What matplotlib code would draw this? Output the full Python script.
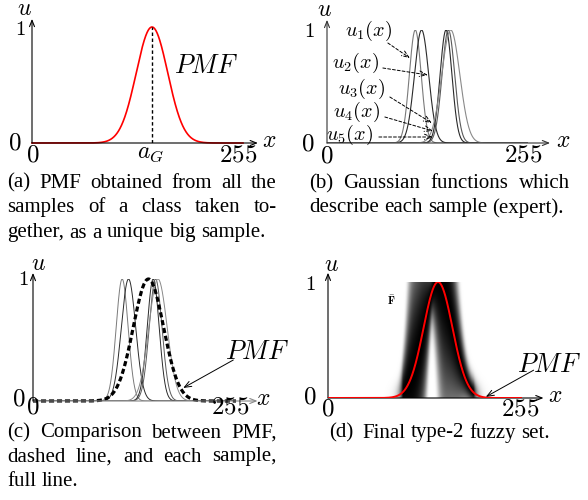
import numpy as np
import matplotlib
matplotlib.use('Agg')
import matplotlib.pyplot as plt

plt.rcParams['mathtext.fontset'] = 'cm'
plt.rcParams['font.family'] = ['Liberation Serif', 'DejaVu Serif']

# ---------------- data ----------------
pmf_mean = 145.0
pmf_sigma = 19.0
sample_means = [112, 120, 151, 154, 157]
sample_sigmas = [7.5, 9.0, 7.5, 8.0, 11.5]
sample_colors = ['#7a7a7a', '#2a2a2a', '#2a2a2a', '#5a5a5a', '#8a8a8a']
sample_labels = [r'$u_1(x)$', r'$u_2(x)$', r'$u_3(x)$', r'$u_4(x)$', r'$u_5(x)$']
x_ticks = ['0', '255']
u_ticks = ['0', '1']
captions = {
    'a': ['(a)  PMF obtained from all the', 'samples of a class taken to-', 'gether, as a unique big sample.'],
    'b': ['(b)  Gaussian functions which', 'describe each sample (expert).'],
    'c': ['(c)  Comparison between PMF,', 'dashed line, and each sample,', 'full line.'],
    'd': ['(d)  Final type-2 fuzzy set.'],
}

W, H = 588, 500
fig = plt.figure(figsize=(W / 100, H / 100), dpi=100)
fig.patch.set_facecolor('white')

xs = np.linspace(0, 255, 1276)

FS_TICK = 18
FS_ONE = 15
FS_AX = 17
FS_PMF = 19
FS_LAB = 14.5


def gauss(x, m, s):
    return np.exp(-(x - m) ** 2 / (2 * s ** 2))


def panel(x0, x255, y0, y1):
    ax = fig.add_axes([x0 / W, 1 - y0 / H, (x255 - x0) / W, (y0 - y1) / H])
    ax.set_xlim(0, 255)
    ax.set_ylim(0, 1)
    ax.axis('off')
    return ax


def axes_arrows(ax, xend, uend, xcolor='k', ycolor='k'):
    st = '->,head_length=0.45,head_width=0.18'
    ax.annotate('', xy=(xend, 0), xytext=(0, 0), annotation_clip=False,
                arrowprops=dict(arrowstyle=st, lw=0.8, color=xcolor, shrinkA=0, shrinkB=0))
    ax.annotate('', xy=(0, uend), xytext=(0, 0), annotation_clip=False,
                arrowprops=dict(arrowstyle=st, lw=0.8, color=ycolor, shrinkA=0, shrinkB=0))


def txt(ax, x, u, s, fs):
    ax.text(x, u, s, ha='center', va='center', fontsize=fs, clip_on=False)


def pointer(ax, start, end, ls='-'):
    ax.annotate('', xy=end, xytext=start, annotation_clip=False,
                arrowprops=dict(arrowstyle='->,head_length=0.5,head_width=0.2', lw=0.7,
                                color='k', linestyle=ls, shrinkA=0, shrinkB=0))


def ticks(ax, left0, below0, right255, one):
    txt(ax, *left0, r'$' + u_ticks[0] + '$', FS_TICK)
    txt(ax, *below0, r'$' + x_ticks[0] + '$', FS_TICK)
    txt(ax, *right255, r'$' + x_ticks[1] + '$', FS_TICK)
    txt(ax, *one, r'$' + u_ticks[1] + '$', FS_ONE)


pmf = gauss(xs, pmf_mean, pmf_sigma)
samples = [gauss(xs, m, s) for m, s in zip(sample_means, sample_sigmas)]

# ---------------- (a) ----------------
axa = panel(32, 243, 143, 27)
axes_arrows(axa, 273, 1.07)
axa.plot(xs, pmf, color='red', lw=1.2, clip_on=False)
axa.plot([pmf_mean, pmf_mean], [0, 1], color='k', lw=1.0, ls=(0, (2.5, 1.8)))
ticks(axa, (-20.5, 0.0), (1.5, -0.11), (249, -0.11), (-14.5, 0.97))
txt(axa, -9.7, 1.15, r'$u$', FS_AX)
txt(axa, 287, 0.01, r'$x$', FS_AX)
txt(axa, pmf_mean - 2, -0.09, r'$a_G$', FS_AX)
txt(axa, 211, 0.66, r'$PMF$', FS_PMF)

# ---------------- (b) ----------------
axb = panel(327, 528, 143, 30)
axes_arrows(axb, 283, 1.09, xcolor='#333333', ycolor='#333333')
for ys, c in zip(samples, sample_colors):
    axb.plot(xs, ys, color=c, lw=0.8)
ticks(axb, (-25, -0.01), (0, -0.12), (249, -0.11), (-22.8, 0.98))
txt(axb, -3.8, 1.17, r'$u$', FS_AX)
txt(axb, 300, 0.01, r'$x$', FS_AX)

lab_px = [(369, 31), (356, 63), (362, 89), (357, 112), (350, 135)]
arr_px = [((388, 43), (410, 58)), ((383, 68), (428, 75)), ((390, 97), (432, 123)),
          ((385, 117), (433, 131)), ((379, 137), (433, 137))]


def pb(px, py):
    return ((px - 327) / 0.79, (143 - py) / 113.0)


for lab, (lx, ly), (s, e) in zip(sample_labels, lab_px, arr_px):
    tx, tu = pb(lx, ly)
    txt(axb, tx, tu, lab, FS_LAB)
    pointer(axb, pb(*s), pb(*e), ls=(0, (3, 2)))

# ---------------- (c) ----------------
axc = panel(33, 236, 401, 279)
axes_arrows(axc, 282, 1.05, xcolor='#888888')
for ys, c in zip(samples, sample_colors):
    axc.plot(xs, ys, color=c, lw=0.7)
axc.plot(xs, pmf, color='k', lw=2.3, ls=(0, (1.6, 0.9)), clip_on=False)
ticks(axc, (-17.6, 0.01), (0, -0.05), (248, -0.05), (-12.6, 0.99))
txt(axc, 6.3, 1.115, r'$u$', FS_AX)
txt(axc, 289, 0.01, r'$x$', FS_AX)
txt(axc, 281, 0.40, r'$PMF$', FS_PMF)
pointer(axc, (251.6, 0.336), (188.7, 0.107))

# ---------------- (d) ----------------
axd = panel(328, 521.5, 398, 282)
U = np.linspace(0, 1, 300)
S = np.array(samples)
spread = 0.06 + 1.3 * S.std(axis=0)
weight = np.clip(pmf / 0.05, 0, 1) ** 2
D = np.exp(-(U[:, None] - pmf[None, :]) ** 2 / (2 * spread[None, :] ** 2)) * weight[None, :]
D = D ** 0.7
axd.imshow(D, cmap='gray_r', vmin=0, vmax=1, extent=(0, 255, 0, 1), origin='lower',
           aspect='auto', interpolation='bilinear', zorder=1)
axes_arrows(axd, 284, 1.08)
axd.plot(xs, pmf, color='red', lw=1.4, zorder=3)
ticks(axd, (-23.7, 0.0), (0, -0.095), (253, -0.095), (-23.7, 0.97))
txt(axd, 4, 1.14, r'$u$', FS_AX)
txt(axd, 299, 0.01, r'$x$', FS_AX)
txt(axd, 292, 0.284, r'$PMF$', FS_PMF)
txt(axd, 83, 0.845, r'$\bar{\mathbf{F}}$', 8)
pointer(axd, (271, 0.24), (208, 0.01))

# ---------------- captions ----------------
renderer = fig.canvas.get_renderer()


def caption(lines, xl, xr, ys, fs=15, center=False):
    sp = fig.text(0, 0, 'a a', fontsize=fs)
    sp2 = fig.text(0, 0, 'aa', fontsize=fs)
    gap = sp.get_window_extent(renderer).width - sp2.get_window_extent(renderer).width
    sp.remove(); sp2.remove()
    for i, (line, y) in enumerate(zip(lines, ys)):
        words = [w for w in line.split(' ') if w != '']
        ts = [fig.text(0, 1 - y / H, w, fontsize=fs, va='center', ha='left') for w in words]
        ws = [t.get_window_extent(renderer).width for t in ts]
        last = (i == len(lines) - 1)
        if last or len(words) == 1:
            gaps = [gap] * (len(words) - 1)
            if words[0].startswith('('):
                gaps[0] = gap * 1.8
            total = sum(ws) + sum(gaps)
            x = (xl + xr) / 2 - total / 2 if center else xl
        else:
            g = (xr - xl - sum(ws)) / (len(words) - 1)
            gaps = [g] * (len(words) - 1)
            x = xl
        for j, (t, w) in enumerate(zip(ts, ws)):
            t.set_position((x / W, 1 - y / H))
            if j < len(gaps):
                x += w + gaps[j]


caption(captions['a'], 7.5, 276.5, [183, 208, 233])
caption(captions['b'], 309, 570, [184, 208])
caption(captions['c'], 7.5, 276.5, [433, 457, 481])
caption(captions['d'], 309, 570, [433], center=True)

fig.savefig('out.png', dpi=100, facecolor='white')
